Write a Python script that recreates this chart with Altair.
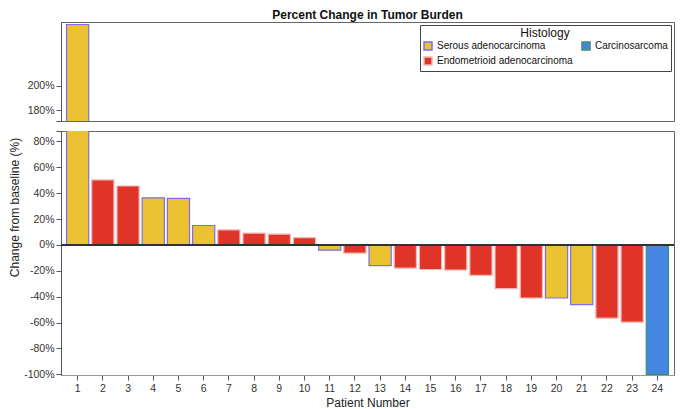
import altair as alt
import pandas as pd

patients = list(range(1, 25))
changes = [249.0, 50.2, 45.5, 36.4, 36.0, 15.0, 11.6, 9.1, 8.3, 5.7, -4.1, -6.4,
           -16.0, -18.0, -19.0, -19.4, -23.5, -33.8, -41.0, -41.0, -46.2, -56.6, -59.7, -100.0]
S, E, C = "Serous adenocarcinoma", "Endometrioid adenocarcinoma", "Carcinosarcoma"
histology = [S, E, E, S, S, S, E, E, E, E, S, E, S, E, E, E, E, E, E, S, S, E, E, C]

hist_order = [S, E, C]
fill_colors = ["#EAC232", "#DF3427", "#4586E2"]
stroke_colors = ["#7B6CF6", "#F2B8B8", "#3E8E6E"]

top_ticks = [171.5, 180, 200]
bottom_ticks = [-100, -80, -60, -40, -20, 0, 20, 40, 60, 80, 88]

df = pd.DataFrame({"Patient": patients, "Change": changes, "Histology": histology})

FONT = "Liberation Sans"
W = 613
H_TOP = 99
H_BOTTOM = 244

xscale = alt.Scale(paddingInner=0.12, paddingOuter=0.22)

CAP_TEST = "datum.value == 171.5 || datum.value == 88"


def y_axis(ticks, ytitle):
    return alt.Axis(values=ticks,
                    labelExpr="(" + CAP_TEST + ") ? '' : datum.value + '%'",
                    labelFontSize={"condition": {"test": CAP_TEST, "value": 0}, "value": 10.5},
                    labelColor="#333", tickSize=5, tickColor="#555",
                    domainColor="#555", grid=False, labelPadding=2, labelOverlap=False,
                    title=ytitle if ytitle else None,
                    titleFontSize=12, titleFontWeight="normal", titleColor="#222",
                    titlePadding=2, titleY=76)


def bars(domain, ticks, height, show_x, show_legend, ytitle):
    x_axis = alt.Axis(title="Patient Number", labelAngle=0, labelFontSize=10.5,
                      labelColor="#333", tickSize=5, tickColor="#555",
                      domainColor="#999", titleFontSize=12, titleFontWeight="normal",
                      titleColor="#222", titlePadding=4, labelPadding=3) if show_x else None
    if show_legend:
        color_legend = alt.Legend(title="Histology", orient="top-right", offset=3,
                                  columns=2, symbolType="square", symbolSize=64,
                                  labelFontSize=10, titleFontSize=12,
                                  titleFontWeight="normal", titleColor="#111",
                                  labelColor="#111", titleAnchor="middle",
                                  strokeColor="#444", fillColor="white", padding=3,
                                  titlePadding=1, labelOffset=4,
                                  rowPadding=1, columnPadding=6, symbolStrokeWidth=1.5)
    else:
        color_legend = None
    base = alt.Chart(df).encode(
        x=alt.X("Patient:O", scale=xscale, axis=x_axis),
    )
    b = base.mark_bar(clip=True, strokeWidth=1.2).encode(
        y=alt.Y("Change:Q", scale=alt.Scale(domain=domain, nice=False, zero=False),
                axis=y_axis(ticks, ytitle)),
        y2=alt.datum(0),
        color=alt.Color("Histology:N", scale=alt.Scale(domain=hist_order, range=fill_colors),
                        legend=color_legend),
        stroke=alt.Stroke("Histology:N", scale=alt.Scale(domain=hist_order, range=stroke_colors),
                          legend=color_legend),
    )
    return b.properties(width=W, height=height)


top = bars([171.5, 251], top_ticks, H_TOP, False, True, None)

bottom_bars = bars([-100.5, 88], bottom_ticks, H_BOTTOM, True, False, "Change from baseline (%)")
zero = alt.Chart(df).mark_rule(color="#333", strokeWidth=1).encode(
    y=alt.Y(datum=0, type="quantitative", axis=y_axis(bottom_ticks, "Change from baseline (%)"))
)
bottom = alt.layer(bottom_bars, zero).properties(width=W, height=H_BOTTOM)

chart = alt.vconcat(top, bottom, spacing=8).resolve_scale(
    y="independent"
).resolve_legend(color="independent", stroke="independent").properties(
    title=alt.TitleParams("Percent Change in Tumor Burden", fontSize=12, fontWeight="bold",
                          anchor="middle", frame="group", offset=0, color="#111", font=FONT),
    padding=0,
).configure(font=FONT).configure_view(stroke="#666", strokeWidth=1)

chart.save("out.html", embed_options={"renderer": "svg", "actions": False})
